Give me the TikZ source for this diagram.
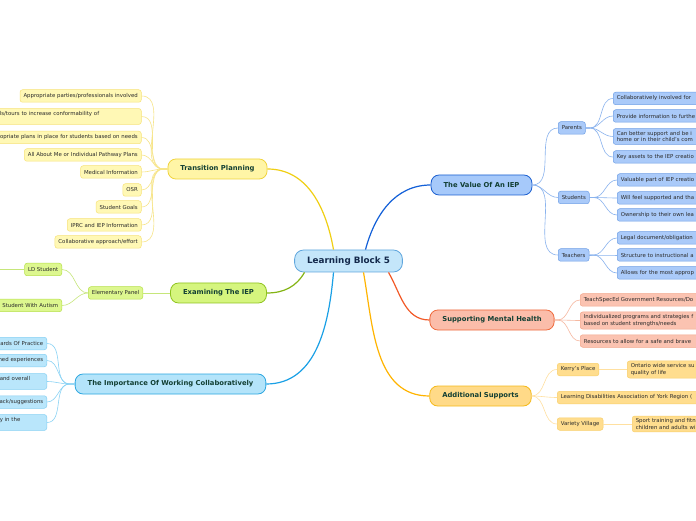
\documentclass[tikz,border=0pt]{standalone}
\usepackage{fontspec}
\setmainfont{DejaVu Sans}
\usetikzlibrary{positioning}

\definecolor{rootfill}{HTML}{C4E6FA}
\definecolor{rootdraw}{HTML}{5FA6DD}
\definecolor{roottext}{HTML}{13294B}
\definecolor{topictext}{HTML}{123F33}
\definecolor{leaftext}{HTML}{2B2B2B}
% yellow
\definecolor{yfill}{HTML}{FFF5A6}
\definecolor{ydraw}{HTML}{F0D33B}
\definecolor{yleaffill}{HTML}{FFF8B5}
\definecolor{yleafdraw}{HTML}{F7E27A}
\definecolor{ymain}{HTML}{F0CF14}
\definecolor{ythin}{HTML}{F7E58A}
% green
\definecolor{gfill}{HTML}{D5F57E}
\definecolor{gdraw}{HTML}{8FC31F}
\definecolor{gleaffill}{HTML}{DDF78F}
\definecolor{gleafdraw}{HTML}{B6E04A}
\definecolor{gmain}{HTML}{84B414}
\definecolor{gthin}{HTML}{C6E67A}
% light blue
\definecolor{bfill}{HTML}{B4E4FA}
\definecolor{bdraw}{HTML}{2BA6E0}
\definecolor{bleaffill}{HTML}{B9E6FB}
\definecolor{bleafdraw}{HTML}{86D0F3}
\definecolor{bmain}{HTML}{1AA0E6}
\definecolor{bthin}{HTML}{8AD3F5}
% blue
\definecolor{vfill}{HTML}{A6C9FA}
\definecolor{vdraw}{HTML}{1B5FD0}
\definecolor{vleaffill}{HTML}{AACAF9}
\definecolor{vleafdraw}{HTML}{6E9FE6}
\definecolor{vmain}{HTML}{1360D8}
\definecolor{vthin}{HTML}{8AB3EE}
% red
\definecolor{rfill}{HTML}{FBBDAA}
\definecolor{rdraw}{HTML}{EF6A3C}
\definecolor{rleaffill}{HTML}{FBC3B1}
\definecolor{rleafdraw}{HTML}{F3A68A}
\definecolor{rmain}{HTML}{F25A28}
\definecolor{rthin}{HTML}{F6B8A0}
% orange
\definecolor{ofill}{HTML}{FFDA88}
\definecolor{odraw}{HTML}{F5BA1B}
\definecolor{oleaffill}{HTML}{FFDD8E}
\definecolor{oleafdraw}{HTML}{F8CF6A}
\definecolor{omain}{HTML}{FFB400}
\definecolor{othin}{HTML}{FFE0A0}

\begin{document}
\begin{tikzpicture}[x=1pt,y=1pt,
root/.style={draw=rootdraw, fill=rootfill, text=roottext, rounded corners=9pt, line width=0.8pt, minimum height=22pt, inner xsep=12.5pt, font=\bfseries\fontsize{8.8}{10.5}\selectfont},
topic/.style={rounded corners=8pt, line width=0.8pt, minimum height=20pt, inner xsep=12.5pt, text=topictext, font=\bfseries\fontsize{6.8}{8}\selectfont},
leaf/.style={rounded corners=2.5pt, line width=0.5pt, minimum height=12.5pt, inner xsep=3.5pt, inner ysep=2.8pt, text=leaftext, font=\fontsize{5.4}{6.2}\selectfont},
ytopic/.style={topic, draw=ydraw, fill=yfill}, yleaf/.style={leaf, draw=yleafdraw, fill=yleaffill},
gtopic/.style={topic, draw=gdraw, fill=gfill}, gleaf/.style={leaf, draw=gleafdraw, fill=gleaffill},
btopic/.style={topic, draw=bdraw, fill=bfill}, bleaf/.style={leaf, draw=bleafdraw, fill=bleaffill},
vtopic/.style={topic, draw=vdraw, fill=vfill}, vleaf/.style={leaf, draw=vleafdraw, fill=vleaffill},
rtopic/.style={topic, draw=rdraw, fill=rfill}, rleaf/.style={leaf, draw=rleafdraw, fill=rleaffill},
otopic/.style={topic, draw=odraw, fill=ofill}, oleaf/.style={leaf, draw=oleafdraw, fill=oleaffill},
cutright/.style={anchor=west, text width=160pt, align=left},
branch/.style={line width=1.2pt}, twig/.style={line width=0.6pt}]

\fill[white] (0,0) rectangle (696,520);
\useasboundingbox (0,0) rectangle (696,520);
\clip (0,0) rectangle (696,520);

% root
\node (lb5)[root] at (348.5,259) {Learning Block 5};

% transition planning
\node (tp)[ytopic] at (217.5,351) {Transition Planning};
\node (tp_0)[yleaf, anchor=east] at (141.5,424) {Appropriate parties/professionals involved};
\node (tp_1)[yleaf, anchor=east, text width=138pt, align=left] at (141.5,403.5) {ls/tours to increase conformability of\\\mbox{}};
\node (tp_2)[yleaf, anchor=east, text width=170pt, align=right] at (141.5,382.5) {opriate plans in place for students based on needs};
\node (tp_3)[yleaf, anchor=east] at (141.5,365) {All About Me or Individual Pathway Plans};
\node (tp_4)[yleaf, anchor=east] at (141.5,348) {Medical Information};
\node (tp_5)[yleaf, anchor=east] at (141.5,330) {OSR};
\node (tp_6)[yleaf, anchor=east] at (141.5,313) {Student Goals};
\node (tp_7)[yleaf, anchor=east] at (141.5,295) {IPRC and IEP Information};
\node (tp_8)[yleaf, anchor=east] at (141.5,278) {Collaborative approach/effort};

% examining the IEP
\node (iep)[gtopic] at (218.5,227) {Examining The IEP};
\node (elem)[gleaf, anchor=east] at (143,227) {Elementary Panel};
\node (ld)[gleaf, anchor=east] at (62,250.5) {LD Student};
\node (asd)[gleaf, anchor=east, text width=80pt, align=right] at (62,214.5) {Student With Autism};
\coordinate (ld_out) at (-10,250.5);

% working collaboratively
\node (wc)[btopic] at (170.5,136) {The Importance Of Working Collaboratively};
\node (wc_0)[bleaf, anchor=east, text width=70pt, align=right] at (47,176.5) {ards Of Practice};
\node (wc_1)[bleaf, anchor=east, text width=70pt, align=right] at (47,159.5) {ned experiences};
\node (wc_2)[bleaf, anchor=east, text width=43.5pt, align=left] at (47,138.5) {and overall\\\mbox{}};
\node (wc_3)[bleaf, anchor=east, text width=70pt, align=right] at (47,118) {ack/suggestions};
\node (wc_4)[bleaf, anchor=east, text width=43.5pt, align=left] at (47,97.5) {y in the\\\mbox{}};

% value of an IEP
\node (val)[vtopic] at (481.5,335) {The Value Of An IEP};
\node (par)[vleaf, anchor=west] at (558,392) {Parents};
\node (stu)[vleaf, anchor=west] at (558,322.5) {Students};
\node (tea)[vleaf, anchor=west] at (558,265) {Teachers};
\node (par_0)[vleaf, cutright] at (613,421.5) {Collaboratively involved for};
\node (par_1)[vleaf, cutright] at (613,404) {Provide information to furthe};
\node (par_2)[vleaf, cutright] at (613,383.5) {Can better support and be i\\home or in their child's com};
\node (par_3)[vleaf, cutright] at (613,363) {Key assets to the IEP creatio};
\node (stu_0)[vleaf, cutright] at (617,340) {Valuable part of IEP creatio};
\node (stu_1)[vleaf, cutright] at (617,322) {Will feel supported and tha};
\node (stu_2)[vleaf, cutright] at (617,305) {Ownership to their own lea};
\node (tea_0)[vleaf, cutright] at (617,282) {Legal document/obligation};
\node (tea_1)[vleaf, cutright] at (617,265) {Structure to instructional a};
\node (tea_2)[vleaf, cutright] at (617,247) {Allows for the most approp};

% mental health
\node (mh)[rtopic] at (492,200) {Supporting Mental Health};
\node (mh_0)[rleaf, cutright] at (580,220) {TeachSpecEd Government Resources/Do};
\node (mh_1)[rleaf, cutright] at (580,199.5) {Individualized programs and strategies f\\based on student strengths/needs};
\node (mh_2)[rleaf, cutright] at (580,179) {Resources to allow for a safe and brave};

% additional supports
\node (add)[otopic] at (480.5,124) {Additional Supports};
\node (kp)[oleaf, anchor=west] at (557,150.5) {Kerry's Place};
\node (kp_0)[oleaf, cutright] at (627,150.5) {Ontario wide service su\\quality of life};
\node (ldayr)[oleaf, cutright] at (557,122.5) {Learning Disabilities Association of York Region (};
\node (vv)[oleaf, anchor=west] at (557,96) {Variety Village};
\node (vv_0)[oleaf, cutright] at (632,96) {Sport training and fitn\\children and adults wi};

% main branches
\draw [branch, ymain] ([xshift=-15pt]lb5.north) to[out=100,in=0] (tp.east);
\draw [branch, vmain] ([xshift=17pt]lb5.north) to[out=75,in=180] (val.west);
\draw [branch, gmain] ([xshift=-44pt]lb5.south) to[out=-120,in=0] (iep.east);
\draw [branch, bmain] ([xshift=-15pt]lb5.south) to[out=-95,in=0] (wc.east);
\draw [branch, omain] ([xshift=15pt]lb5.south) to[out=-80,in=180] (add.west);
\draw [branch, rmain] ([xshift=40pt]lb5.south) to[out=-60,in=180] (mh.west);

% twigs
\foreach \i in {0,...,8} \draw [twig, ythin] (tp.west) -- ++(-4,0) to[out=180,in=0] (tp_\i.east);
\draw [twig, gthin] (iep.west) -- (elem.east);
\draw [twig, gthin] (elem.west) to[out=180,in=0] (ld.east);
\draw [twig, gthin] (elem.west) to[out=180,in=0] (asd.east);
\draw [twig, gthin] (ld.west) -- (ld_out);
\foreach \i in {0,...,4} \draw [twig, bthin] (wc.west) -- ++(-5,0) to[out=180,in=0] (wc_\i.east);
\foreach \n in {par,stu,tea} \draw [twig, vthin] (val.east) to[out=0,in=180] (\n.west);
\foreach \i in {0,...,3} \draw [twig, vthin] (par.east) -- ++(4,0) to[out=0,in=180] (par_\i.west);
\foreach \i in {0,1,2} \draw [twig, vthin] (stu.east) -- ++(4,0) to[out=0,in=180] (stu_\i.west);
\foreach \i in {0,1,2} \draw [twig, vthin] (tea.east) -- ++(4,0) to[out=0,in=180] (tea_\i.west);
\foreach \i in {0,1,2} \draw [twig, rthin] (mh.east) -- ++(3,0) to[out=0,in=180] (mh_\i.west);
\foreach \n in {kp,ldayr,vv} \draw [twig, othin] (add.east) to[out=0,in=180] (\n.west);
\draw [twig, othin] (kp.east) -- (kp_0.west);
\draw [twig, othin] (vv.east) -- (vv_0.west);
\end{tikzpicture}
\end{document}
